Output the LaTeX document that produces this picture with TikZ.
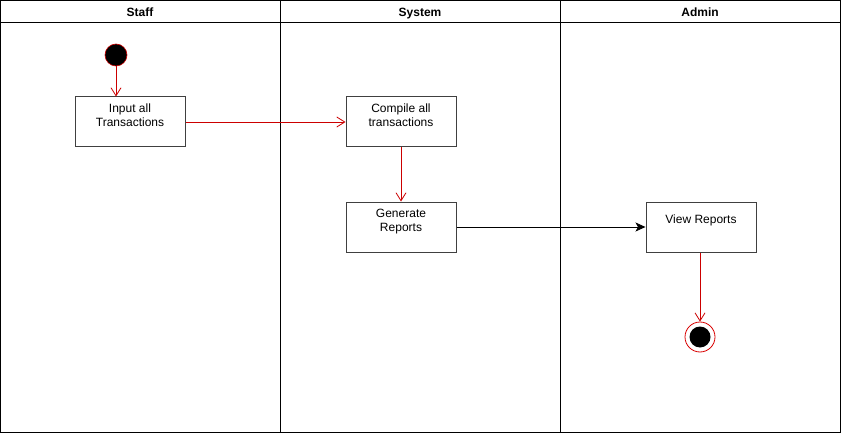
\documentclass[tikz,border=0pt]{standalone}
\usepackage{fontspec}
\setmainfont{Liberation Sans}
\usetikzlibrary{arrows.meta}
\begin{document}
\begin{tikzpicture}[x=1pt,y=-1pt,
  lane/.style={draw=black,line width=1pt},
  act/.style={draw=black!75,line width=1pt,fill=white},
  lbl/.style={anchor=north,align=center,font=\fontsize{12}{14}\selectfont,inner sep=0pt},
  hdr/.style={anchor=base,font=\fontsize{12}{14}\selectfont\bfseries,inner sep=0pt},
  redarr/.style={draw=red!80!black,line width=0.8pt,-{Straight Barb[length=8pt,width=10pt]}},
  blkarr/.style={draw=black,line width=0.8pt,-{Stealth[length=10pt,width=9pt,inset=2.5pt]}}]
\useasboundingbox (0,0) rectangle (841,433);
\fill[white] (0,0) rectangle (841,433);
% lanes
\draw[lane] (0.5,0.5) rectangle (840,432);
\draw[lane] (0.5,23) -- (840,23);
\draw[lane] (280,0.5) -- (280,432);
\draw[lane] (560,0.5) -- (560,432);
\node[hdr] (hstaff) at (140,16.5) {Staff};
\node[hdr] (hsys) at (420,16.5) {System};
\node[hdr] (hadmin) at (700,16.5) {Admin};
% start
\node[circle,fill=black,draw=red!80!black,line width=0.6pt,minimum size=22pt,inner sep=0pt] (start) at (116,55) {};
% boxes
\node[act,minimum width=110pt,minimum height=50pt,inner sep=0pt] (b1) at (130,122) {};
\node[lbl] (t1) at (130,103.5) {Input all\\Transactions};
\node[act,minimum width=110pt,minimum height=50pt,inner sep=0pt] (b2) at (401,122) {};
\node[lbl] (t2) at (401,103.5) {Compile all\\transactions};
\node[act,minimum width=110pt,minimum height=50pt,inner sep=0pt] (b3) at (401,227) {};
\node[lbl] (t3) at (401,208.5) {Generate\\Reports};
\node[act,minimum width=110pt,minimum height=50pt,inner sep=0pt] (b4) at (701,227) {};
\node[lbl] (t4) at (701,214.5) {View Reports};
% end
\node[circle,draw=red!85!black,line width=0.8pt,minimum size=30pt,inner sep=0pt,fill=white] (endo) at (700,337) {};
\node[circle,fill=black,minimum size=21pt,inner sep=0pt] (endi) at (700,337) {};
% arrows
\draw[redarr] (start.south) -- (b1.north -| start);
\draw[redarr] (b1.east) -- (b2.west);
\draw[redarr] (b2.south) -- (b3.north);
\draw[blkarr] (b3.east) -- (b4.west);
\draw[redarr] (b4.south -| endo) -- (endo.north);
\end{tikzpicture}
\end{document}
